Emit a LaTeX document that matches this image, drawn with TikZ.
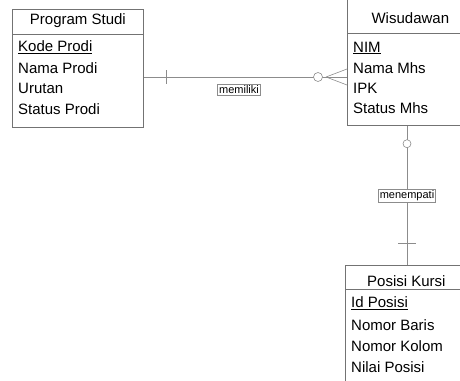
\documentclass[tikz,border=0pt]{standalone}
\usepackage{fontspec}
\setmainfont{Liberation Sans}
\usetikzlibrary{positioning}
\tikzset{
    entbox/.style={draw=black!55, line width=0.7pt, rectangle, anchor=north west, inner sep=0pt},
    entline/.style={draw=black!55, line width=0.7pt},
    enthead/.style={font=\fontsize{15}{16}\selectfont, inner sep=0pt},
    attr/.style={font=\fontsize{15}{16}\selectfont, anchor=west, inner sep=0pt},
    conn/.style={draw=black!45, line width=0.6pt},
    rel/.style={draw=black!45, line width=0.5pt, fill=white, font=\fontsize{11}{12}\selectfont, inner sep=1.5pt},
}
\begin{document}
\begin{tikzpicture}[x=1pt, y=-1pt]
    \useasboundingbox (0,0) rectangle (460,380);
    \clip (0,0) rectangle (460,380);
    % entities
    \node[entbox, minimum width=131pt, minimum height=118pt] (prodi) at (12,9) {};
    \draw[entline] (prodi.west |- 0,34) -- (prodi.east |- 0,34);
    \node[enthead] (prodi-h) at (prodi.north |- 0,21) {Program Studi};
    \node[attr] (prodi-1) at (18,47) {\underline{Kode Prodi}};
    \node[attr] (prodi-2) at (18,68) {Nama Prodi};
    \node[attr] (prodi-3) at (18,88) {Urutan};
    \node[attr] (prodi-4) at (18,109) {Status Prodi};

    \node[entbox, minimum width=126pt, minimum height=127pt] (wisuda) at (347,-2) {};
    \draw[entline] (wisuda.west |- 0,33) -- (wisuda.east |- 0,33);
    \node[enthead] (wisuda-h) at (wisuda.north |- 0,18) {Wisudawan};
    \node[attr] (wisuda-1) at (353,48) {\underline{NIM}};
    \node[attr] (wisuda-2) at (353,68) {Nama Mhs};
    \node[attr] (wisuda-3) at (353,88) {IPK};
    \node[attr] (wisuda-4) at (353,108) {Status Mhs};

    \node[entbox, minimum width=122pt, minimum height=125pt] (posisi) at (345,265) {};
    \draw[entline] (posisi.west |- 0,289) -- (posisi.east |- 0,289);
    \node[enthead] (posisi-h) at (posisi.north |- 0,281) {Posisi Kursi};
    \node[attr] (posisi-1) at (351,303) {\underline{Id Posisi}};
    \node[attr] (posisi-2) at (351,325) {Nomor Baris};
    \node[attr] (posisi-3) at (351,346) {Nomor Kolom};
    \node[attr] (posisi-4) at (351,367) {Nilai Posisi};

    % memiliki
    \coordinate (m-a) at (prodi.east |- 0,77);
    \coordinate (m-b) at (wisuda.west |- 0,77);
    \draw[conn] (m-a) -- (m-b);
    \draw[conn] ([xshift=23pt,yshift=7pt]m-a) -- ([xshift=23pt,yshift=-7pt]m-a);
    \draw[conn] ([xshift=-21pt]m-b) -- ([yshift=8pt]m-b)
        ([xshift=-21pt]m-b) -- ([yshift=-8pt]m-b);
    \draw[conn, fill=white] ([xshift=-29pt]m-b) circle (4.5pt);
    \node[rel] (memiliki) at (239,90) {memiliki};

    % menempati
    \coordinate (n-a) at ([xshift=60pt]wisuda.south west);
    \coordinate (n-b) at (posisi.north west -| n-a);
    \draw[conn] (n-a) -- (n-b);
    \draw[conn, fill=white] ([yshift=-18pt]n-a) circle (4pt);
    \draw[conn] ([xshift=-9pt,yshift=22pt]n-b) -- ([xshift=9pt,yshift=22pt]n-b);
    \node[rel] (menempati) at (n-a |- 0,196) {menempati};
\end{tikzpicture}
\end{document}
